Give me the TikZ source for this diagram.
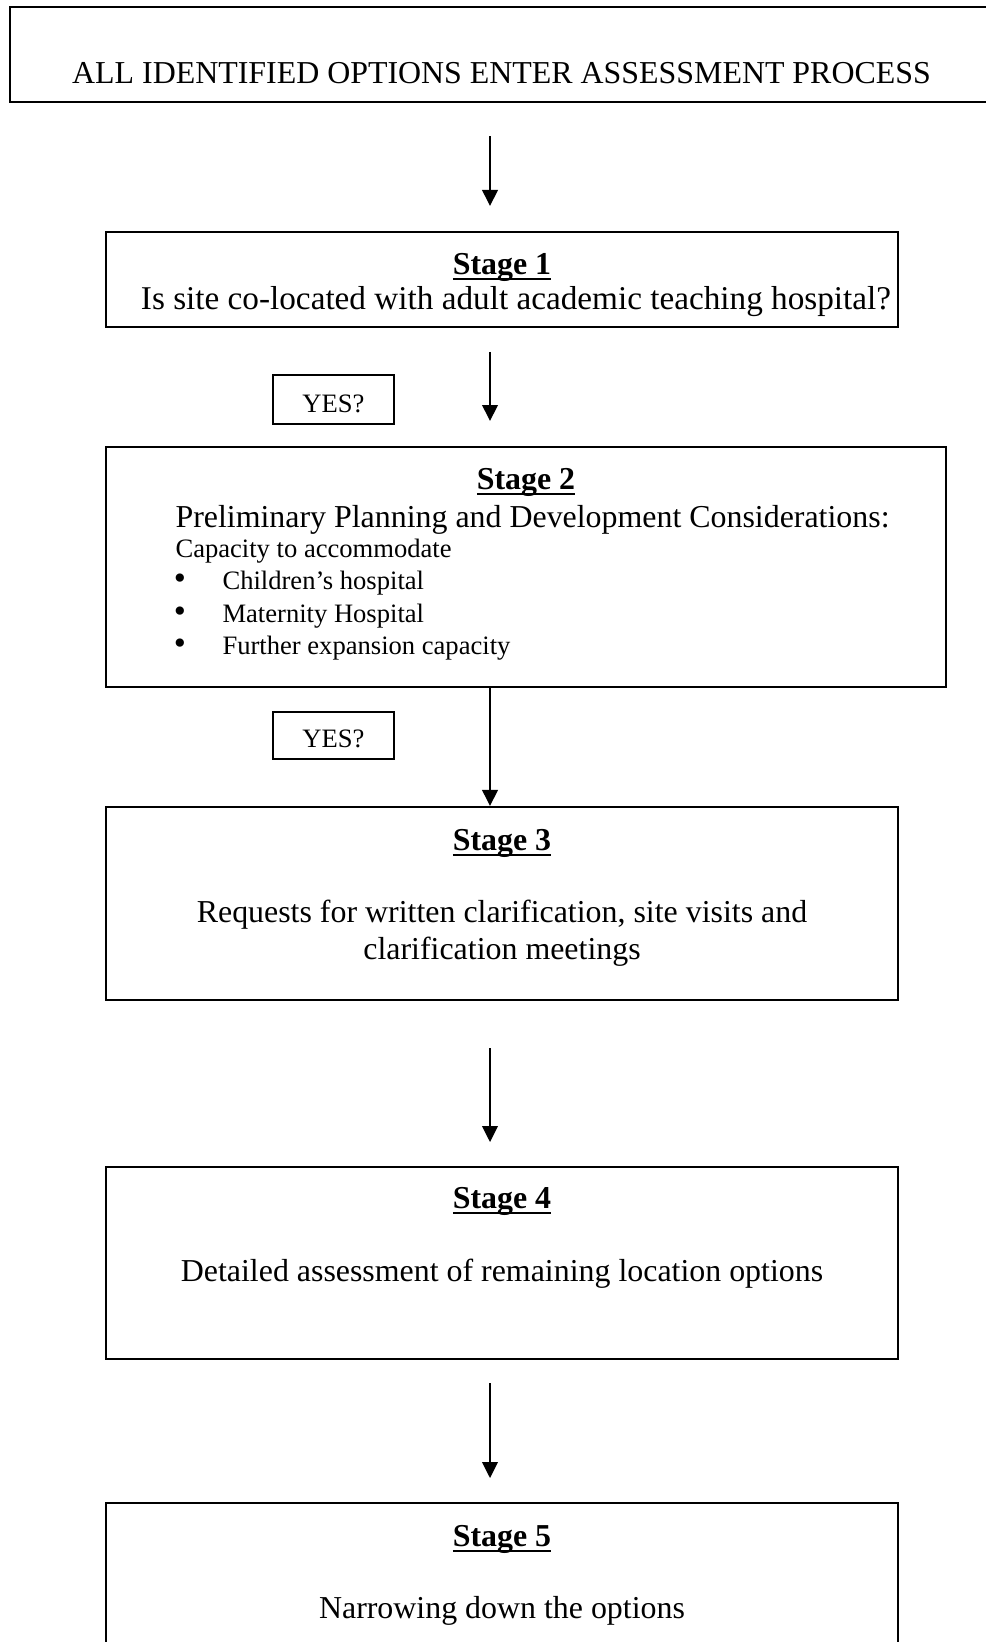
\documentclass[tikz,border=0pt]{standalone}
\usepackage{fontspec}
\setmainfont{Liberation Serif}
\usetikzlibrary{fit,arrows.meta}
\newcommand\stul[1]{\setbox0\hbox{#1}\rlap{\rule[-2.3pt]{\wd0}{0.9pt}}\box0}
\begin{document}
\begin{tikzpicture}[x=0.3762pt,y=-0.3762pt,
  box/.style={draw,line width=0.8pt,inner sep=0pt},
  big/.style={font=\fontsize{12}{14}\selectfont,inner sep=0pt,anchor=base},
  bigw/.style={big,anchor=base west},
  small/.style={font=\fontsize{10}{12}\selectfont,inner sep=0pt,anchor=base},
  smallw/.style={small,anchor=base west},
  bul/.style={font=\fontsize{13}{14}\selectfont,inner sep=0pt,anchor=base},
  title/.style={font=\fontsize{12}{14}\selectfont\bfseries,inner sep=0pt,anchor=base},
  arr/.style={line width=0.55pt,-{Triangle[length=6pt,width=5.9pt]}}]
\useasboundingbox (0,0) rectangle (986,1642);
\coordinate (ax) at (490,0);

% top box
\node[box, fit={(10,7) (993,102)}] (top) {};
\node[big] (toptxt) at (501.5,84) {ALL IDENTIFIED OPTIONS ENTER ASSESSMENT PROCESS};

% stage 1
\node[box, fit={(106,232) (898,327)}] (s1) {};
\node[title] (s1t) at (502,274) {\stul{Stage 1}};
\node[big, font=\fontsize{12.5}{14}\selectfont] (s1a) at (516,309) {Is site co-located with adult academic teaching hospital?};

% yes 1
\node[box, fit={(273,375) (394,424)}] (yes1) {};
\node[small] (yes1t) at (333.5,412) {YES?};

% stage 2
\node[box, fit={(106,447) (946,687)}] (s2) {};
\node[title] (s2t) at (526,489) {\stul{Stage 2}};
\node[bigw] (s2a) at (175,527) {Preliminary Planning and Development Considerations:};
\node[smallw] (s2b) at (175,557) {Capacity to accommodate};
\node[bul] (b1) at (180,589) {\textbullet};
\node[smallw] (b1t) at (222,589) {Children’s hospital};
\node[bul] (b2) at (180,622) {\textbullet};
\node[smallw] (b2t) at (222,622) {Maternity Hospital};
\node[bul] (b3) at (180,654) {\textbullet};
\node[smallw] (b3t) at (222,654) {Further expansion capacity};

% yes 2
\node[box, fit={(273,712) (394,759)}] (yes2) {};
\node[small] (yes2t) at (333.5,747) {YES?};

% stage 3
\node[box, fit={(106,807) (898,1000)}] (s3) {};
\node[title] (s3t) at (502,850) {\stul{Stage 3}};
\node[big] (s3a) at (502,922) {Requests for written clarification, site visits and};
\node[big] (s3b) at (502,959) {clarification meetings};

% stage 4
\node[box, fit={(106,1167) (898,1359)}] (s4) {};
\node[title] (s4t) at (502,1208) {\stul{Stage 4}};
\node[big] (s4a) at (502,1281) {Detailed assessment of remaining location options};

% stage 5
\node[box, fit={(106,1503) (898,1700)}] (s5) {};
\node[title] (s5t) at (502,1546) {\stul{Stage 5}};
\node[big] (s5a) at (502,1618) {Narrowing down the options};

% arrows
\draw[arr, shorten <=12.4pt, shorten >=9.4pt] (top.south -| ax) -- (s1.north -| ax);
\draw[arr, shorten <=9.0pt, shorten >=9.4pt] (s1.south -| ax) -- (s2.north -| ax);
\draw[arr] (s2.south -| ax) -- (s3.north -| ax);
\draw[arr, shorten <=17.7pt, shorten >=9.0pt] (s3.south -| ax) -- (s4.north -| ax);
\draw[arr, shorten <=8.7pt, shorten >=9.0pt] (s4.south -| ax) -- (s5.north -| ax);
\end{tikzpicture}
\end{document}
